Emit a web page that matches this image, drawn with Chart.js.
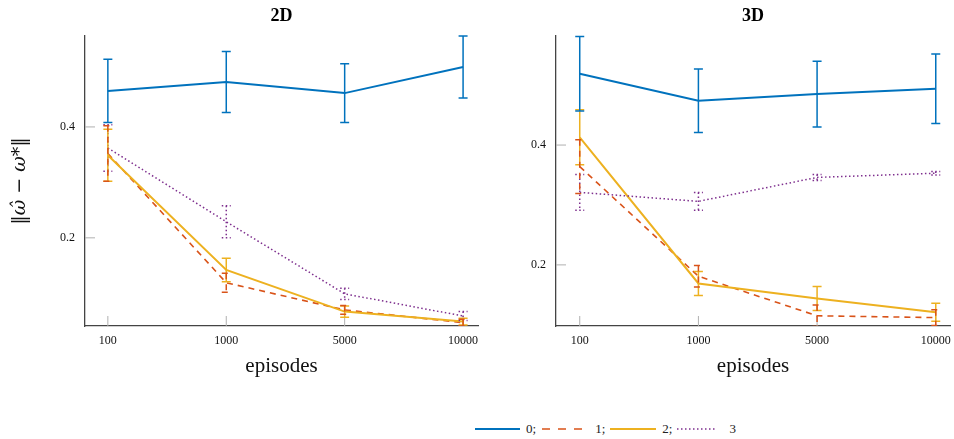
<!DOCTYPE html>
<html>
<head>
<meta charset="utf-8">
<script src="https://cdn.jsdelivr.net/npm/chart.js@4.4.1/dist/chart.umd.min.js"></script>
<style>
  body { margin: 0; background: #fff; width: 954px; height: 439px; overflow: hidden; position: relative; }
  .box { position: absolute; top: 0; height: 390px; }
  #legend { position: absolute; left: 475px; top: 421px; font: 13px 'Liberation Serif', serif; color: #222; display: flex; align-items: center; white-space: nowrap; }
  #legend svg { display: block; margin-right: 6px; }
  #legend .lb { margin-right: 5px; }
</style>
</head>
<body>
<div class="box" style="left:0; width:482px;"><canvas id="c2d" width="482" height="390"></canvas></div>
<div class="box" style="left:482px; width:472px;"><canvas id="c3d" width="472" height="390"></canvas></div>
<div id="legend">
  <svg width="45" height="6"><line x1="0" y1="3" x2="45" y2="3" stroke="#0072BD" stroke-width="2"/></svg><span class="lb">0;</span>
  <svg width="44" height="6" style="margin-left:1px; margin-right:9px"><line x1="0" y1="3" x2="44" y2="3" stroke="#D95319" stroke-width="1.6" stroke-dasharray="8,8"/></svg><span class="lb">1;</span>
  <svg width="46" height="6"><line x1="0" y1="3" x2="46" y2="3" stroke="#EDB120" stroke-width="2"/></svg><span class="lb">2;</span>
  <svg width="40" height="6" style="margin-right:12px"><line x1="0" y1="3" x2="40" y2="3" stroke="#7E2F8E" stroke-width="1.5" stroke-dasharray="1.5,2.5"/></svg><span class="lb">3</span>
</div>
<script>
// episodes
const xLabels = ['100', '1000', '5000', '10000'];
const yTicks = [0.2, 0.4];
const seriesNames = ['0', '1', '2', '3'];

// 2D: mean and error half-width
const mean2D_0 = [0.465, 0.481, 0.461, 0.508];
const err2D_0  = [0.057, 0.055, 0.053, 0.056];
const mean2D_1 = [0.352, 0.119, 0.070, 0.047];
const err2D_1  = [0.050, 0.017, 0.008, 0.006];
const mean2D_2 = [0.349, 0.142, 0.067, 0.049];
const err2D_2  = [0.047, 0.021, 0.010, 0.006];
const mean2D_3 = [0.362, 0.229, 0.099, 0.059];
const err2D_3  = [0.042, 0.029, 0.010, 0.008];

// 3D
const mean3D_0 = [0.519, 0.474, 0.485, 0.494];
const err3D_0  = [0.062, 0.053, 0.055, 0.058];
const mean3D_1 = [0.364, 0.181, 0.115, 0.112];
const err3D_1  = [0.045, 0.018, 0.018, 0.013];
const mean3D_2 = [0.413, 0.169, 0.144, 0.121];
const err3D_2  = [0.046, 0.020, 0.020, 0.015];
const mean3D_3 = [0.321, 0.306, 0.346, 0.353];
const err3D_3  = [0.030, 0.015, 0.005, 0.003];

const styles = [
  { color: '#0072BD', dash: [], width: 2, order: 3 },
  { color: '#D95319', dash: [6, 5], width: 1.6, order: 2 },
  { color: '#EDB120', dash: [], width: 2, order: 1 },
  { color: '#7E2F8E', dash: [1.5, 2.5], width: 1.5, order: 0 }
];

// error bars + inward tick marks
const errorBars = {
  id: 'errorBars',
  afterDatasetsDraw(chart) {
    const ctx = chart.ctx, a = chart.chartArea;
    const xs = chart.scales.x, ys = chart.scales.y;
    ctx.save();
    ctx.beginPath();
    ctx.rect(a.left, a.top - 1, a.right - a.left, a.bottom - a.top + 1);
    ctx.clip();
    chart.data.datasets.slice().reverse().forEach(ds => {
      ctx.strokeStyle = ds.borderColor;
      ctx.lineWidth = 1.5;
      ctx.setLineDash(ds.borderDash || []);
      ds.data.forEach((p, i) => {
        const e = ds.errors[i];
        const x = xs.getPixelForValue(p.x);
        const yt = ys.getPixelForValue(p.y + e);
        const yb = ys.getPixelForValue(p.y - e);
        ctx.beginPath();
        ctx.moveTo(x, yt); ctx.lineTo(x, yb);
        ctx.moveTo(x - 4.5, yt); ctx.lineTo(x + 4.5, yt);
        ctx.moveTo(x - 4.5, yb); ctx.lineTo(x + 4.5, yb);
        ctx.stroke();
      });
    });
    ctx.restore();
  },
  beforeDatasetsDraw(chart) {
    const ctx = chart.ctx, a = chart.chartArea;
    const xs = chart.scales.x, ys = chart.scales.y;
    ctx.save();
    ctx.strokeStyle = '#b0b0b0';
    ctx.lineWidth = 1;
    yTicks.forEach(v => {
      const y = ys.getPixelForValue(v);
      ctx.beginPath(); ctx.moveTo(a.left, y); ctx.lineTo(a.left + 10, y); ctx.stroke();
    });
    xLabels.forEach((l, i) => {
      const x = xs.getPixelForValue(i);
      ctx.beginPath(); ctx.moveTo(x, a.bottom); ctx.lineTo(x, a.bottom - 10); ctx.stroke();
    });
    ctx.restore();
  }
};

function makeChart(id, title, means, errs, yMin, yMax, xMin, xMax, yWidth, yTitle) {
  const datasets = means.map((m, k) => ({
    label: seriesNames[k],
    data: m.map((v, i) => ({ x: i, y: v })),
    errors: errs[k],
    borderColor: styles[k].color,
    borderDash: styles[k].dash,
    borderWidth: styles[k].width,
    order: styles[k].order,
    pointRadius: 0,
    fill: false,
    tension: 0
  }));

  return new Chart(document.getElementById(id), {
    type: 'line',
    data: { datasets: datasets },
    plugins: [errorBars],
    options: {
      responsive: false,
      animation: false,
      layout: { padding: { left: 0, right: 4, top: 0, bottom: 0 } },
      plugins: {
        legend: { display: false },
        tooltip: { enabled: false },
        title: {
          display: true, text: title, color: '#000', fullSize: false,
          font: { family: "'Liberation Serif', serif", size: 18, weight: 'bold', lineHeight: 1.2 },
          padding: { top: 6, bottom: 8.4 }
        }
      },
      scales: {
        x: {
          type: 'linear', min: xMin, max: xMax,
          afterBuildTicks: s => { s.ticks = xLabels.map((l, i) => ({ value: i })); },
          afterFit: s => { s.height = 64; s.paddingLeft = 0; s.paddingRight = 0; },
          grid: { display: false, drawTicks: false },
          border: { display: true, color: '#444', width: 1.3 },
          ticks: {
            padding: 8, color: '#111', maxRotation: 0, autoSkip: false,
            font: { family: "'Liberation Serif', serif", size: 12 },
            callback: v => xLabels[v]
          },
          title: {
            display: true, text: 'episodes', color: '#111',
            font: { family: "'Liberation Serif', serif", size: 21, lineHeight: 1.2 },
            padding: { top: 0, bottom: 11 }
          }
        },
        y: {
          min: yMin, max: yMax,
          afterBuildTicks: s => { s.ticks = yTicks.map(v => ({ value: v })); },
          afterFit: s => { s.width = yWidth; },
          grid: { display: false, drawTicks: false },
          border: { display: true, color: '#444', width: 1.3 },
          ticks: {
            padding: 10, color: '#111',
            font: { family: "'Liberation Serif', serif", size: 12 },
            callback: v => v.toFixed(1)
          },
          title: {
            display: yTitle, text: '‖ω̂ − ω*‖', color: '#111',
            font: { family: "'DejaVu Serif', serif", size: 19, style: 'italic', lineHeight: 1.2 },
            padding: { top: 9, bottom: 0 }
          }
        }
      }
    }
  });
}

makeChart('c2d', '2D',
  [mean2D_0, mean2D_1, mean2D_2, mean2D_3],
  [err2D_0, err2D_1, err2D_2, err2D_3],
  0.041, 0.564, -0.193, 3.126, 85, true);

makeChart('c3d', '3D',
  [mean3D_0, mean3D_1, mean3D_2, mean3D_3],
  [err3D_0, err3D_1, err3D_2, err3D_3],
  0.098, 0.582, -0.2, 3.12, 74, false);
</script>
</body>
</html>
